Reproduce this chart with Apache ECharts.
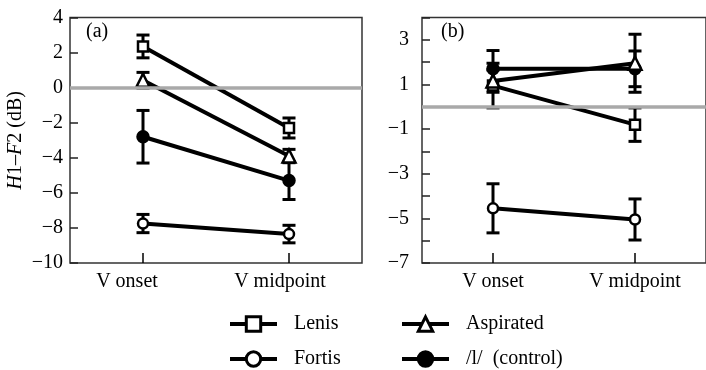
<!DOCTYPE html>
<html>
<head>
<meta charset="utf-8">
<script src="https://cdn.jsdelivr.net/npm/echarts@6.0.0/dist/echarts.min.js"></script>
<style>
  html, body { margin: 0; padding: 0; background: #fff; }
  #chart { width: 706px; height: 370px; }
</style>
</head>
<body>
<div id="chart"></div>
<script>
// Measurement points along the vowel
const categories = ['V onset', 'V midpoint'];

// Series names
const names = ['Lenis', 'Fortis', 'Aspirated', '/l/  (control)'];

// Panel (a): means and error half-widths (dB)
const lenisA = [2.35, -2.3];
const lenisAErr = [0.65, 0.57];
const fortisA = [-7.75, -8.35];
const fortisAErr = [0.52, 0.5];
const aspiratedA = [0.42, -3.9];
const aspiratedAErr = [0.45, 0.38];
const controlA = [-2.8, -5.3];
const controlAErr = [1.5, 1.08];

// Panel (b): means and error half-widths (dB)
const lenisB = [0.95, -0.8];
const lenisBErr = [1.0, 0.75];
const fortisB = [-4.55, -5.05];
const fortisBErr = [1.1, 0.92];
const aspiratedB = [1.15, 1.95];
const aspiratedBErr = [0.5, 1.3];
const controlB = [1.7, 1.7];
const controlBErr = [0.82, 0.8];

// Axis ranges
const yRangeA = { min: -10, max: 4, interval: 2 };
const yRangeB = { min: -7, max: 4, interval: 1 };

const FONT = '"Liberation Serif", "DejaVu Serif", serif';
const INK = '#000';

const markerStyles = [
  { symbol: 'rect', symbolSize: 10, fill: '#fff', z: 4 },
  { symbol: 'circle', symbolSize: 10, fill: '#fff', z: 4 },
  { symbol: 'triangle', symbolSize: 13, fill: '#fff', z: 4 },
  { symbol: 'circle', symbolSize: 11, fill: INK, z: 3 }
];

const minus = v => String(v).replace('-', '\u2212');

function errorBars(params, api) {
  const x = api.value(0), v = api.value(1), e = api.value(2);
  const hi = api.coord([x, v + e]);
  const lo = api.coord([x, v - e]);
  const w = 6.5;
  const st = { stroke: INK, lineWidth: 3 };
  return {
    type: 'group',
    children: [
      { type: 'line', shape: { x1: hi[0], y1: hi[1], x2: lo[0], y2: lo[1] }, style: st },
      { type: 'line', shape: { x1: hi[0] - w, y1: hi[1], x2: hi[0] + w, y2: hi[1] }, style: st },
      { type: 'line', shape: { x1: lo[0] - w, y1: lo[1], x2: lo[0] + w, y2: lo[1] }, style: st }
    ]
  };
}

// short inward tick marks on the category axis, one per category
function categoryTicks(params, api) {
  const p = api.coord([api.value(0), api.value(1)]);
  return {
    type: 'line',
    shape: { x1: p[0], y1: p[1], x2: p[0], y2: p[1] - 10 },
    style: { stroke: INK, lineWidth: 1.5 }
  };
}

function panelSeries(axisIdx, yMin, vals, errs) {
  const out = [];
  out.push({
    type: 'custom',
    xAxisIndex: axisIdx, yAxisIndex: axisIdx,
    renderItem: categoryTicks,
    encode: { x: 0, y: 1 },
    data: categories.map((c, i) => [i, yMin]),
    z: 1,
    silent: true
  });
  vals.forEach((v, k) => {
    out.push({
      type: 'custom',
      xAxisIndex: axisIdx, yAxisIndex: axisIdx,
      renderItem: errorBars,
      encode: { x: 0, y: 1 },
      data: categories.map((c, i) => [i, v[i], errs[k][i]]),
      z: 2,
      silent: true
    });
  });
  vals.forEach((v, k) => {
    const m = markerStyles[k];
    out.push({
      name: names[k],
      type: 'line',
      xAxisIndex: axisIdx, yAxisIndex: axisIdx,
      data: v,
      symbol: m.symbol,
      symbolSize: m.symbolSize,
      showAllSymbol: true,
      lineStyle: { color: INK, width: 4 },
      itemStyle: { color: m.fill, borderColor: INK, borderWidth: 2.5, opacity: 1 },
      z: m.z
    });
  });
  // zero reference line
  out.push({
    type: 'line',
    xAxisIndex: axisIdx, yAxisIndex: axisIdx,
    data: [],
    silent: true,
    z: 1,
    markLine: {
      silent: true,
      symbol: 'none',
      label: { show: false },
      lineStyle: { color: '#a9a9a9', width: 3.5, type: 'solid' },
      data: [{ yAxis: 0 }]
    }
  });
  return out;
}

const tickLabel = { fontFamily: FONT, fontSize: 20, color: INK };

// one legend block per entry, laid out in two columns
const legendPos = [
  { left: 228, top: 313 },
  { left: 228, top: 348 },
  { left: 400, top: 313 },
  { left: 400, top: 348 }
];
const legends = names.map((n, k) => ({
  data: [n],
  left: legendPos[k].left,
  top: legendPos[k].top,
  padding: 0,
  itemWidth: 47,
  itemHeight: 18,
  lineStyle: { color: INK, width: 4 },
  itemStyle: { borderWidth: 3 },
  textStyle: { fontFamily: FONT, fontSize: 20, color: INK, padding: [0, 0, 0, 12], lineHeight: 22 },
  selectedMode: false
}));

const chart = echarts.init(document.getElementById('chart'), null, { renderer: 'canvas' });
chart.setOption({
  animation: false,
  backgroundColor: '#fff',
  grid: [
    { left: 70, top: 17.5, width: 292, height: 245.5, show: true, borderColor: '#333', borderWidth: 1.5, containLabel: false },
    { left: 422, top: 17.5, width: 293, height: 245.5, show: true, borderColor: '#333', borderWidth: 1.5, containLabel: false }
  ],
  xAxis: [0, 1].map(g => ({
    type: 'category',
    gridIndex: g,
    position: 'bottom',
    data: categories,
    boundaryGap: true,
    axisLine: { show: false, onZero: false },
    axisTick: { show: false },
    axisLabel: g === 0 ? {
      margin: 9,
      formatter: (v, i) => (i === 0 ? '{l|' + v + '}' : '{m|' + v + '}'),
      rich: {
        l: Object.assign({ padding: [0, 32, 0, 0] }, tickLabel),
        m: Object.assign({ padding: [0, 18, 0, 0] }, tickLabel)
      }
    } : Object.assign({ margin: 9 }, tickLabel),
    splitLine: { show: false }
  })),
  yAxis: [
    {
      type: 'value', gridIndex: 0,
      min: yRangeA.min, max: yRangeA.max, interval: yRangeA.interval,
      axisLine: { show: false },
      axisTick: { show: true, inside: true, length: 8, lineStyle: { color: '#222', width: 1.5 } },
      axisLabel: Object.assign({ margin: 7, formatter: v => minus(v) }, tickLabel),
      splitLine: { show: false },
      name: '{i|H}1\u2013{i|F}2 (dB)',
      nameLocation: 'middle',
      nameRotate: 90,
      nameGap: 44,
      nameTextStyle: {
        fontFamily: FONT, fontSize: 20, color: INK,
        rich: { i: { fontFamily: FONT, fontSize: 20, fontStyle: 'italic', color: INK } }
      }
    },
    {
      type: 'value', gridIndex: 1,
      min: yRangeB.min, max: yRangeB.max, interval: yRangeB.interval,
      axisLine: { show: false },
      axisTick: { show: true, inside: true, length: 8, lineStyle: { color: '#222', width: 1.5 } },
      axisLabel: Object.assign({
        margin: 13,
        formatter: v => (Math.abs(v) % 2 === 1 ? minus(v) : '')
      }, tickLabel),
      splitLine: { show: false }
    }
  ],
  legend: legends,
  graphic: [
    { type: 'text', left: 86, top: 22, style: { text: '(a)', font: '20px ' + FONT, fill: INK } },
    { type: 'text', left: 441, top: 22, style: { text: '(b)', font: '20px ' + FONT, fill: INK } }
  ],
  series: [].concat(
    panelSeries(0, yRangeA.min, [lenisA, fortisA, aspiratedA, controlA], [lenisAErr, fortisAErr, aspiratedAErr, controlAErr]),
    panelSeries(1, yRangeB.min, [lenisB, fortisB, aspiratedB, controlB], [lenisBErr, fortisBErr, aspiratedBErr, controlBErr])
  )
});
</script>
</body>
</html>
